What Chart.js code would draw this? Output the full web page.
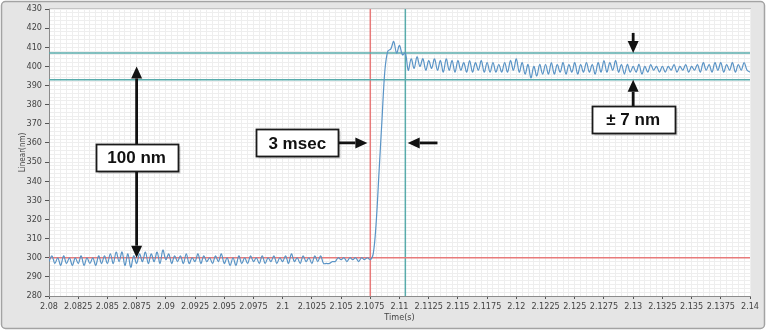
<!DOCTYPE html>
<html>
<head>
<meta charset="utf-8">
<script src="https://cdn.jsdelivr.net/npm/chart.js@4.4.1/dist/chart.umd.min.js"></script>
<style>
  html, body { margin: 0; padding: 0; background: #fff; }
  #wrap { width: 768px; height: 334px; }
</style>
</head>
<body>
<div id="wrap"><canvas id="chart" width="768" height="334"></canvas></div>
<script>
// sample clock of the recording
const tStart = 2.08;
const tStep = 0.00025;

// Linear(nm) readings, one per sample
const linear = [
  298,301,297,300,296,301,297,300,296,300,297,301,296,300,297,300,296,301,297,301,
  297,302,297,303,298,303,296,302,295,301,297,302,298,303,297,302,298,303,297,304,
  299,302,297,301,298,301,297,302,297,300,298,302,297,301,298,300,297,301,298,302,
  297,300,296,300,296,301,297,300,297,301,298,300,297,301,297,300,298,301,297,300,
  298,301,297,302,298,300,297,301,298,300,297,301,298,301,297,297,297,298,298,300,
  299,300,298,300,299,300,298,300,299,300,299,
  302,318,345,372,398,408,
  409,413,407,411,406,407,398,
  404,399,405,400,404,398,403,399,404,398,403,397,404,398,403,397,403,398,402,397,403,397,402,398,403,397,
  402,397,402,397,401,397,402,397,403,398,404,397,402,396,401,394,400,395,401,396,
  401,396,402,396,401,397,402,396,401,397,402,396,401,397,402,397,401,396,402,397,
  403,397,402,398,403,397,401,396,401,397,400,397,401,396,400,397,401,398,400,397,
  400,397,400,398,401,397,400,398,401,397,400,398,401,397,402,398,401,397,402,398,
  402,397,401,398,402,397,401,398,402,398,397
];

const xTicks = [2.08, 2.0825, 2.085, 2.0875, 2.09, 2.0925, 2.095, 2.0975, 2.1, 2.1025,
  2.105, 2.1075, 2.11, 2.1125, 2.115, 2.1175, 2.12, 2.1225, 2.125, 2.1275, 2.13,
  2.1325, 2.135, 2.1375, 2.14];

// cursors
const baseLevel = 300;
const bandLevels = [407, 393];
const stepStart = 2.1075;
const stepSettled = 2.1105;

// callouts (data units)
const notes = [
  { text: '100 nm', t: 2.0875, v: 352.5, w: 82, h: 27 },
  { text: '3 msec', t: 2.10125, v: 360, w: 82, h: 27 },
  { text: '\u00b1 7 nm', t: 2.13, v: 372.5, w: 83, h: 27 }
];
const arrows = [
  { from: [2.0875, 352.5], to: [2.0875, 400] },
  { from: [2.0875, 352.5], to: [2.0875, 300] },
  { from: [2.10125, 360], to: [2.10725, 360] },
  { from: [2.11325, 360], to: [2.1107, 360] },
  { from: [2.13, 372.5], to: [2.13, 393] },
  { from: [2.13, 417.5], to: [2.13, 407] }
];

const smallFont = "'Liberation Sans Narrow', 'DejaVu Sans Condensed', 'Liberation Sans', sans-serif";
const xMin = 2.08, xMax = 2.14, yMin = 280, yMax = 430;

const signal = linear.map((v, i) => ({ x: tStart + i * tStep, y: v }));
const hLine = (y) => [{ x: xMin, y: y }, { x: xMax, y: y }];
const vLine = (x) => [{ x: x, y: yMin }, { x: x, y: yMax }];

const teal = '#58abab';
const red = '#e77a7a';

const framePlugin = {
  id: 'frame',
  beforeDraw(chart) {
    const { ctx, chartArea: a } = chart;
    ctx.save();
    ctx.fillStyle = '#fff';
    ctx.fillRect(0, 0, chart.width, chart.height);
    ctx.beginPath();
    ctx.roundRect(1.5, 1.5, 763, 327, 4);
    ctx.fillStyle = '#e5e5e5';
    ctx.fill();
    ctx.strokeStyle = '#a3a3a3';
    ctx.lineWidth = 1.5;
    ctx.stroke();
    ctx.fillStyle = '#fff';
    ctx.fillRect(a.left, a.top, a.right - a.left, a.bottom - a.top);
    ctx.strokeStyle = '#c4c4c4';
    ctx.lineWidth = 1;
    ctx.strokeRect(a.left + 0.5, a.top - 0.5, a.right - a.left, a.bottom - a.top + 1);
    ctx.restore();
  }
};

const calloutPlugin = {
  id: 'callouts',
  afterDraw(chart) {
    const { ctx } = chart;
    const sx = chart.scales.x, sy = chart.scales.y;
    ctx.save();
    ctx.strokeStyle = '#111';
    ctx.fillStyle = '#111';
    ctx.lineWidth = 2.8;
    arrows.forEach(a => {
      const x1 = sx.getPixelForValue(a.from[0]), y1 = sy.getPixelForValue(a.from[1]);
      const x2 = sx.getPixelForValue(a.to[0]), y2 = sy.getPixelForValue(a.to[1]);
      const ang = Math.atan2(y2 - y1, x2 - x1);
      const len = 12, half = 5.5;
      const bx = x2 - len * Math.cos(ang), by = y2 - len * Math.sin(ang);
      ctx.beginPath();
      ctx.moveTo(x1, y1);
      ctx.lineTo(bx, by);
      ctx.stroke();
      ctx.beginPath();
      ctx.moveTo(x2, y2);
      ctx.lineTo(bx + half * Math.sin(ang), by - half * Math.cos(ang));
      ctx.lineTo(bx - half * Math.sin(ang), by + half * Math.cos(ang));
      ctx.closePath();
      ctx.fill();
    });
    notes.forEach(n => {
      const cx = sx.getPixelForValue(n.t), cy = sy.getPixelForValue(n.v);
      const x = Math.round(cx - n.w / 2) + 0.5, y = Math.round(cy - n.h / 2) + 0.5;
      ctx.fillStyle = 'rgba(0,0,0,0.18)';
      ctx.fillRect(x + 2, y + 2, n.w, n.h);
      ctx.fillStyle = '#fff';
      ctx.fillRect(x, y, n.w, n.h);
      ctx.strokeStyle = '#1a1a1a';
      ctx.lineWidth = 1.8;
      ctx.strokeRect(x, y, n.w, n.h);
      ctx.fillStyle = '#111';
      ctx.font = "bold 17px 'Liberation Sans', Arial, sans-serif";
      ctx.textAlign = 'center';
      ctx.textBaseline = 'middle';
      ctx.fillText(n.text, cx, cy + 1);
    });
    ctx.restore();
  }
};

new Chart(document.getElementById('chart').getContext('2d'), {
  type: 'line',
  data: {
    datasets: [
      { label: 'Linear', data: signal, borderColor: '#5a94c6', borderWidth: 1.2,
        pointRadius: 0, tension: 0.35, order: 0 },
      { data: hLine(baseLevel), borderColor: red, borderWidth: 1.5, pointRadius: 0, order: 1 },
      { data: hLine(bandLevels[0]), borderColor: teal, borderWidth: 1.5, pointRadius: 0, order: 1 },
      { data: hLine(bandLevels[1]), borderColor: teal, borderWidth: 1.5, pointRadius: 0, order: 1 },
      { data: vLine(stepStart), borderColor: red, borderWidth: 1.5, pointRadius: 0, order: 1 },
      { data: vLine(stepSettled), borderColor: teal, borderWidth: 1.5, pointRadius: 0, order: 1 }
    ]
  },
  options: {
    responsive: false,
    animation: false,
    layout: { padding: { left: 0, right: 18, top: 9, bottom: 0 } },
    plugins: { legend: { display: false }, tooltip: { enabled: false } },
    scales: {
      x: {
        type: 'linear', min: xMin, max: xMax, position: 'bottom',
        afterBuildTicks: s => { s.ticks = xTicks.map(v => ({ value: v })); },
        afterFit: s => { s.height = 38; },
        ticks: { autoSkip: false, maxRotation: 0, padding: 2, color: '#444',
                 font: { family: smallFont, size: 9 }, callback: v => String(v) },
        grid: { color: '#d8d8d8', tickColor: '#555', tickLength: 3 },
        border: { color: '#8c8c8c' },
        title: { display: true, text: 'Time(s)', color: '#444',
                 font: { family: smallFont, size: 9 }, padding: { top: 0, bottom: 11 } }
      },
      xMinor: {
        type: 'linear', min: xMin, max: xMax, position: 'bottom', z: -1,
        afterBuildTicks: s => {
          const t = [];
          for (let k = 0; k <= 120; k++) t.push({ value: xMin + k * 0.0005 });
          s.ticks = t;
        },
        afterFit: s => { s.height = 0; },
        ticks: { display: false },
        grid: { color: '#eeeeee', drawTicks: false },
        border: { display: false }
      },
      y: {
        min: yMin, max: yMax, position: 'left',
        afterFit: s => { s.width = 49; },
        ticks: { stepSize: 10, padding: 3, color: '#444', font: { family: smallFont, size: 9 } },
        grid: { color: '#d8d8d8', tickColor: '#555', tickLength: 4 },
        border: { color: '#8c8c8c' },
        title: { display: true, text: 'Linear(nm)', color: '#444',
                 font: { family: smallFont, size: 8 }, padding: { top: 18, bottom: 0 } }
      },
      yMinor: {
        min: yMin, max: yMax, position: 'left', z: -1,
        afterFit: s => { s.width = 0; },
        ticks: { display: false, stepSize: 2 },
        grid: { color: '#eeeeee', drawTicks: false },
        border: { display: false }
      }
    }
  },
  plugins: [framePlugin, calloutPlugin]
});
</script>
</body>
</html>
